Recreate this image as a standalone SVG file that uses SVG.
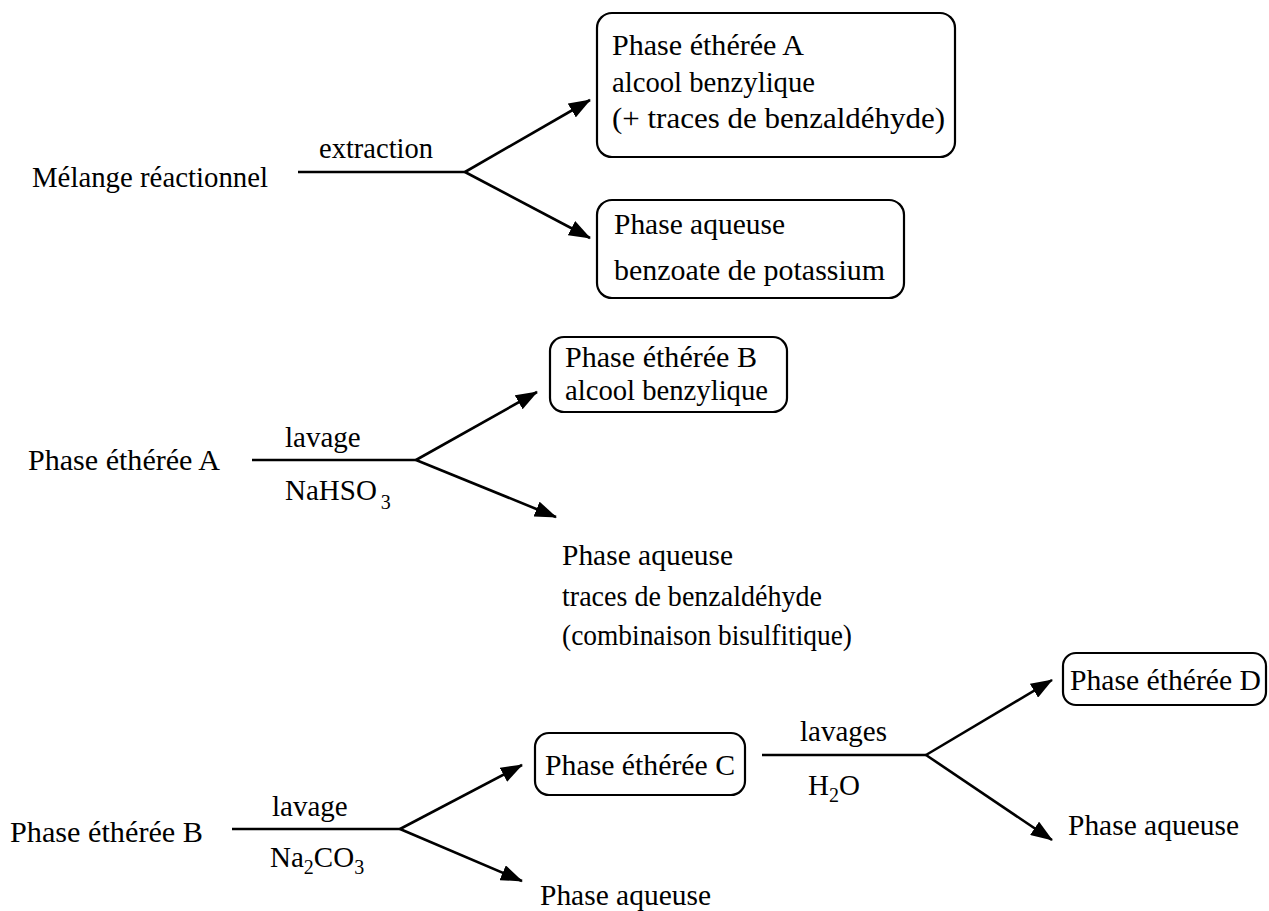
<svg xmlns="http://www.w3.org/2000/svg" width="1269" height="911" viewBox="0 0 1269 911" font-family="'Liberation Serif', 'Times New Roman', serif" font-size="29">
<defs>
<style>
text{fill:#000}
.sub{font-size:20px}
.box{fill:#fff;stroke:#000;stroke-width:2.2}
.con{stroke:#000;stroke-width:2.6;fill:none}
.arr{marker-end:url(#ah)}
</style>
<marker id="ah" markerUnits="userSpaceOnUse" markerWidth="22" markerHeight="16" viewBox="0 0 22 16" refX="21" refY="8" orient="auto">
<path d="M0,0 L22,8 L0,16 Z" fill="#000"/>
</marker>
</defs>
<rect width="1269" height="911" fill="#fff"/>
<g id="connectors">
<line class="con" x1="298" y1="172" x2="465" y2="172"/>
<line class="con arr" x1="465" y1="172" x2="590" y2="100"/>
<line class="con arr" x1="465" y1="172" x2="590" y2="238"/>
<line class="con" x1="252" y1="460" x2="416" y2="460"/>
<line class="con arr" x1="416" y1="460" x2="537" y2="392"/>
<line class="con arr" x1="416" y1="460" x2="556" y2="517"/>
<line class="con" x1="232" y1="829" x2="400" y2="829"/>
<line class="con arr" x1="400" y1="829" x2="522" y2="765"/>
<line class="con arr" x1="400" y1="829" x2="522" y2="881"/>
<line class="con" x1="762" y1="755" x2="926" y2="755"/>
<line class="con arr" x1="926" y1="755" x2="1052" y2="680"/>
<line class="con arr" x1="926" y1="755" x2="1052" y2="840"/>
<text x="319" y="158" textLength="114" lengthAdjust="spacingAndGlyphs">extraction</text>
<text x="285" y="447">lavage</text>
<text x="285" y="500">NaHSO<tspan class="sub" dx="4" dy="9">3</tspan></text>
<text x="272" y="816">lavage</text>
<text x="270" y="867">Na<tspan class="sub" dy="7">2</tspan><tspan dy="-7">CO</tspan><tspan class="sub" dy="7">3</tspan></text>
<text x="800" y="741">lavages</text>
<text x="808" y="795">H<tspan class="sub" dy="7">2</tspan><tspan dy="-7">O</tspan></text>
</g>

<g id="melange"><text x="32" y="187" textLength="236" lengthAdjust="spacingAndGlyphs">Mélange réactionnel</text></g>

<g id="etheree-A">
<rect class="box" x="597" y="13" width="358" height="144" rx="15"/>
<text x="612" y="55" textLength="192" lengthAdjust="spacingAndGlyphs">Phase éthérée A</text>
<text x="612" y="92" textLength="203" lengthAdjust="spacingAndGlyphs">alcool benzylique</text>
<text x="612" y="128" textLength="333" lengthAdjust="spacingAndGlyphs">(+ traces de benzaldéhyde)</text>
</g>

<g id="aqueuse-1">
<rect class="box" x="597" y="200" width="307" height="98" rx="15"/>
<text x="614" y="234" textLength="171" lengthAdjust="spacingAndGlyphs">Phase aqueuse</text>
<text x="614" y="280" textLength="271" lengthAdjust="spacingAndGlyphs">benzoate de potassium</text>
</g>

<g id="etheree-A-start"><text x="28" y="470" textLength="192" lengthAdjust="spacingAndGlyphs">Phase éthérée A</text></g>

<g id="etheree-B">
<rect class="box" x="550" y="337" width="237" height="75" rx="14"/>
<text x="565" y="367" textLength="192" lengthAdjust="spacingAndGlyphs">Phase éthérée B</text>
<text x="565" y="400" textLength="203" lengthAdjust="spacingAndGlyphs">alcool benzylique</text>
</g>

<g id="aqueuse-2">
<text x="562" y="565" textLength="171" lengthAdjust="spacingAndGlyphs">Phase aqueuse</text>
<text x="562" y="606" textLength="260" lengthAdjust="spacingAndGlyphs">traces de benzaldéhyde</text>
<text x="562" y="645" textLength="290" lengthAdjust="spacingAndGlyphs">(combinaison bisulfitique)</text>
</g>

<g id="etheree-B-start"><text x="10" y="842" textLength="193" lengthAdjust="spacingAndGlyphs">Phase éthérée B</text></g>

<g id="etheree-C">
<rect class="box" x="535" y="733" width="210" height="62" rx="14"/>
<text x="545" y="775" textLength="190" lengthAdjust="spacingAndGlyphs">Phase éthérée C</text>
</g>

<g id="aqueuse-3"><text x="540" y="905" textLength="171" lengthAdjust="spacingAndGlyphs">Phase aqueuse</text></g>

<g id="etheree-D">
<rect class="box" x="1063" y="653" width="203" height="52" rx="13"/>
<text x="1070" y="690" textLength="191" lengthAdjust="spacingAndGlyphs">Phase éthérée D</text>
</g>

<g id="aqueuse-4"><text x="1068" y="835" textLength="171" lengthAdjust="spacingAndGlyphs">Phase aqueuse</text></g>
</svg>
